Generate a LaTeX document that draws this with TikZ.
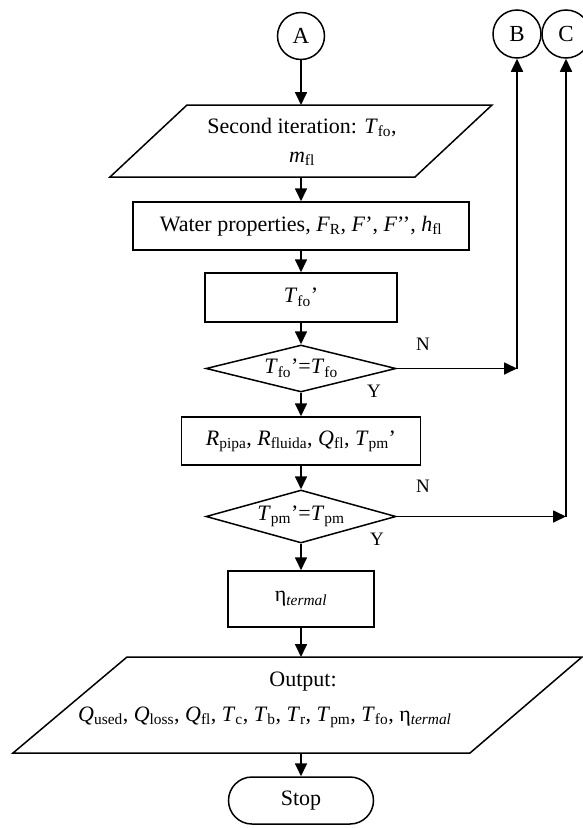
\documentclass[tikz,border=0pt]{standalone}
\usepackage{fontspec}
\setmainfont{Liberation Serif}
\usetikzlibrary{arrows.meta,shapes.geometric}
\begin{document}
\begin{tikzpicture}[x=1pt,y=-1pt,
  txt/.style={font=\fontsize{22}{29}\selectfont, inner sep=0pt},
  box/.style={draw, line width=1.5pt, inner sep=0pt, font=\fontsize{22}{27}\selectfont},
  dec/.style={diamond, draw, line width=1.5pt, inner sep=0pt, aspect=4, font=\fontsize{22}{27}\selectfont},
  conn/.style={circle, draw, line width=1.5pt, inner sep=0pt, minimum size=47pt, font=\fontsize{23}{27}\selectfont},
  term/.style={draw, line width=1.5pt, rounded corners=23.5pt, inner sep=0pt, minimum width=145pt, minimum height=47pt, font=\fontsize{22}{27}\selectfont},
  arr/.style={line width=1.7pt, -{Triangle[length=13pt,width=12pt]}},
  lbl/.style={font=\fontsize{19}{22}\selectfont, inner sep=0pt},
  shp/.style={line width=1.5pt, line join=miter}]
\useasboundingbox (0,0) rectangle (582,828);

% connectors A, B, C
\node[conn] (A) at (301,36) {A};
\node[conn, minimum size=48pt] (B) at (517,34) {B};
\node[conn, minimum size=48pt] (C) at (566,34) {C};

% first parallelogram
\draw[shp] (187,105) -- (492,105) -- (415,177) -- (110,177) -- cycle;
\coordinate (p1t) at (301,105);
\coordinate (p1b) at (301,177);
\node[txt, align=center] (p1txt) at (302,142) {Second iteration: \textit{T}\textsubscript{fo},\\ \textit{m}\textsubscript{fl}};

\node[box, minimum width=336pt, minimum height=48pt] (water) at (301,226)
  {Water properties, \textit{F}\textsubscript{R}, \textit{F}’, \textit{F}’’, \textit{h}\textsubscript{fl}};
\node[box, minimum width=192pt, minimum height=49pt] (tfo) at (301,297.5) {\textit{T}\textsubscript{fo}’};
\node[dec, minimum width=190pt, minimum height=47pt] (d1) at (301,368.5) {\textit{T}\textsubscript{fo}’=\textit{T}\textsubscript{fo}};
\node[box, minimum width=239pt, minimum height=48pt] (rbox) at (301,441)
  {\textit{R}\textsubscript{pipa}, \textit{R}\textsubscript{fluida}, \textit{Q}\textsubscript{fl}, \textit{T}\textsubscript{pm}’};
\node[dec, minimum width=190pt, minimum height=53pt] (d2) at (301,516.5) {\textit{T}\textsubscript{pm}’=\textit{T}\textsubscript{pm}};
\node[box, minimum width=146pt, minimum height=56pt] (eta) at (301,599) {η\textsubscript{\textit{termal}}};

% output parallelogram
\draw[shp] (127,657) -- (582,657) -- (470,753) -- (13,753) -- cycle;
\coordinate (p2t) at (301,657);
\coordinate (p2b) at (301,753);
\node[txt] (outA) at (303,682) {Output:};
\node[txt, anchor=west] (outB) at (78,717) {\textit{Q}\textsubscript{used}, \textit{Q}\textsubscript{loss}, \textit{Q}\textsubscript{fl}, \textit{T}\textsubscript{c}, \textit{T}\textsubscript{b}, \textit{T}\textsubscript{r}, \textit{T}\textsubscript{pm}, \textit{T}\textsubscript{fo}, η\textsubscript{\textit{termal}}};

\node[term] (stop) at (301,800.5) {Stop};

% main flow
\draw[arr] (A) -- (p1t);
\draw[arr] (p1b) -- (water);
\draw[arr] (water) -- (tfo);
\draw[arr] (tfo) -- (d1);
\draw[arr] (d1) -- (rbox);
\draw[arr] (rbox) -- (d2);
\draw[arr] (d2) -- (eta);
\draw[arr] (eta) -- (p2t);
\draw[arr] (p2b) -- (stop);

% loops back
\coordinate (b1) at (517,368.5);
\coordinate (c1) at (566,516.5);
\draw[arr] (d1.east) -- (b1);
\draw[arr] (b1) -- (B.south);
\draw[arr] (d2.east) -- (c1);
\draw[arr] (c1) -- (C.south);

% labels
\node[lbl] (n1) at (423,344) {N};
\node[lbl] (y1) at (374,391) {Y};
\node[lbl] (n2) at (423,486) {N};
\node[lbl] (y2) at (377,539) {Y};
\end{tikzpicture}
\end{document}
